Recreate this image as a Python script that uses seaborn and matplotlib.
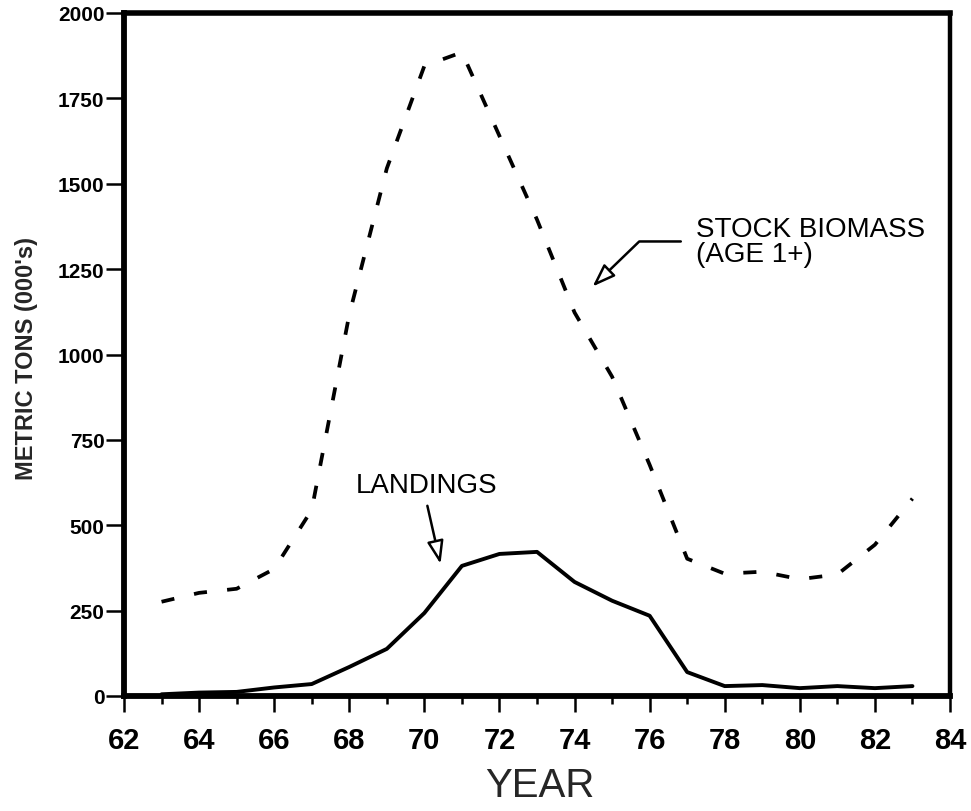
import matplotlib
matplotlib.use("Agg")
import matplotlib.pyplot as plt
import seaborn as sns
import numpy as np

# ---- data ----
biomass_years = [63, 64, 65, 66, 67, 68, 69, 70, 71, 72, 73, 74, 75, 76, 77, 78, 79, 80, 81, 82, 83]
biomass = [276, 302, 314, 372, 545, 1117, 1545, 1845, 1885, 1640, 1395, 1123, 935, 677, 402,
           358, 364, 342, 356, 443, 578]
landing_years = [63, 64, 65, 66, 67, 68, 69, 70, 71, 72, 73, 74, 75, 76, 77, 78, 79, 80, 81, 82, 83]
landings = [5, 10, 12, 25, 35, 85, 138, 243, 381, 416, 422, 334, 279, 235, 70, 29, 32, 23, 29, 23, 29]
x_ticks = list(range(62, 85, 2))
y_ticks = list(range(0, 2001, 250))

sns.set_style("ticks")
plt.rcParams['font.family'] = ['Liberation Sans', 'DejaVu Sans']

fig = plt.figure(figsize=(9.71, 8.12), dpi=100)
ax = fig.add_axes([124 / 971, 1 - 697 / 812, (950 - 124) / 971, (697 - 14) / 812])

sns.lineplot(x=biomass_years, y=biomass, ax=ax, color='black', lw=2.7,
             linestyle=(0, (3.5, 5.4)))
sns.lineplot(x=landing_years, y=landings, ax=ax, color='black', lw=2.8)

ax.set_xlim(62, 84)
ax.set_ylim(0, 2000)
ax.set_xticks(x_ticks)
ax.set_xticks(list(range(63, 84, 2)), minor=True)
ax.set_yticks(y_ticks)
ax.set_xticklabels([str(t) for t in x_ticks], fontweight='bold', fontsize=21)
ax.set_yticklabels([str(t) for t in y_ticks], fontweight='bold', fontsize=15)

ax.tick_params(axis='x', which='major', direction='out', length=11.5, width=1.8, pad=10, colors='black')
ax.tick_params(axis='x', which='minor', direction='out', length=6, width=1.8, colors='black')
ax.tick_params(axis='y', which='major', direction='out', length=13, width=1.8, pad=1, colors='black')

for side, lw in [('left', 4.2), ('bottom', 4.2), ('top', 4.0), ('right', 3.2)]:
    ax.spines[side].set_visible(True)
    ax.spines[side].set_linewidth(lw)
    ax.spines[side].set_color('black')

ax.set_xlabel('YEAR', fontsize=29)
ax.xaxis.set_label_coords(0.504, -0.102)
ax.set_ylabel("METRIC TONS (000's)", fontweight='bold', fontsize=17)
ax.yaxis.set_label_coords(-0.104, 0.496)

# annotations
ax.text(70.05, 598, 'LANDINGS', fontsize=20, ha='center', va='baseline', color='black')
ax.annotate('', xy=(70.43, 387), xytext=(70.08, 557),
            arrowprops=dict(arrowstyle='-|>,head_length=0.7,head_width=0.25', fc='white', ec='black',
                            lw=1.8, shrinkA=0, shrinkB=0, mutation_scale=20))
ax.text(77.23, 1346, 'STOCK BIOMASS', fontsize=20, ha='left', va='baseline', color='black')
ax.text(77.23, 1273, '(AGE 1+)', fontsize=20, ha='left', va='baseline', color='black')
ax.annotate('', xy=(74.48, 1199), xytext=(76.83, 1331),
            arrowprops=dict(arrowstyle='-|>,head_length=0.7,head_width=0.25', fc='white', ec='black',
                            lw=1.8, shrinkA=0, shrinkB=0, mutation_scale=20,
                            connectionstyle='angle,angleA=0,angleB=44,rad=0'))

fig.savefig('out.png', dpi=100, facecolor='white')
